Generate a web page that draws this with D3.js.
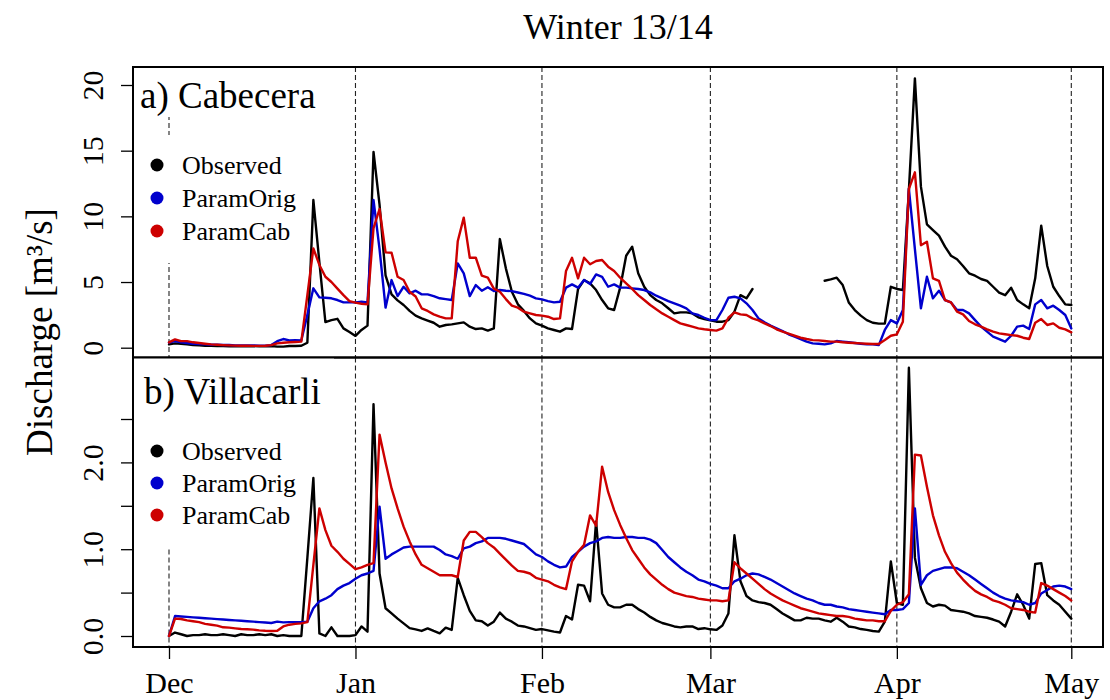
<!DOCTYPE html>
<html>
<head>
<meta charset="utf-8">
<script src="https://cdn.jsdelivr.net/npm/d3@7"></script>
<style>
  html, body { margin: 0; padding: 0; background: #fff; }
  svg text { font-family: "Liberation Serif", "Times New Roman", serif; fill: #000; }
</style>
</head>
<body>
<svg id="chart" width="1110" height="700"></svg>
<script>
// Day index 0 = 1 Dec 2013; the last tick sits on the final day of the record.
const monthTicks  = [0, 31, 62, 90, 121, 150];
const monthLabels = ["Dec", "Jan", "Feb", "Mar", "Apr", "May"];

const seriesNames  = ["Observed", "ParamOrig", "ParamCab"];
const seriesColors = ["#000000", "#0000CD", "#CD0000"];

const cabTicks = [0, 5, 10, 15, 20];
const vilTicks = [0, 0.5, 1, 1.5, 2, 2.5];
const vilTickLabels = ["0.0", "", "1.0", "", "2.0", ""];

// a) Cabecera — daily discharge [m3/s]; null = no observation
const cabObs = [
  0.25,0.33,0.3,0.25,0.2,0.18,0.15,0.14,0.12,0.12,0.1,0.12,0.1,0.1,0.12,0.1,0.1,0.13,0.08,0.08,
  0.13,0.13,0.15,0.38,11.24,6.5,1.95,2.1,2.2,1.47,1.2,0.9,1.35,1.68,14.9,10.9,5.5,4.06,3.6,3.25,
  2.8,2.44,2.23,2.06,1.9,1.6,1.73,1.78,1.85,1.93,1.6,1.42,1.47,1.3,1.47,8.27,6.04,4.26,3.3,2.8,
  2.23,1.85,1.68,1.47,1.35,1.22,1.47,1.42,4.47,5.15,4.9,4.39,3.63,3.0,2.87,4.57,7.0,7.69,5.66,4.64,
  4.0,3.63,3.38,3.0,2.61,2.69,2.69,2.61,2.31,2.18,2.08,1.98,1.98,2.1,2.74,4.0,3.76,4.47,null,null,
  null,null,null,null,null,null,null,null,null,5.1,5.2,5.33,4.77,3.45,2.87,2.44,2.1,1.9,1.83,1.83,
  4.64,4.47,4.39,12.0,20.5,12.26,9.39,8.96,8.53,7.69,7.0,6.73,6.22,5.66,5.48,5.23,5.08,4.64,4.19,4.0,
  4.57,3.63,3.3,3.0,5.28,9.29,6.22,4.64,3.93,3.3,3.25
];
const cabOrig = [
  0.38,0.5,0.41,0.36,0.3,0.28,0.25,0.23,0.22,0.2,0.2,0.18,0.18,0.17,0.17,0.16,0.16,0.2,0.5,0.66,
  0.56,0.58,0.56,2.5,4.52,3.83,3.8,3.76,3.63,3.45,3.45,3.45,3.5,3.45,11.24,7.5,3.05,5.15,3.93,4.64,
  4.14,4.34,4.06,4.06,3.93,3.76,3.7,3.63,6.42,5.66,3.93,4.77,4.34,4.6,4.31,4.39,4.34,4.31,4.2,4.1,
  3.96,3.76,3.68,3.55,3.45,3.5,4.57,4.82,4.57,5.15,4.85,5.58,5.4,4.64,4.82,4.57,4.57,4.52,4.47,4.39,
  4.21,3.96,3.76,3.55,3.38,3.2,3.0,2.61,2.49,2.28,2.1,2.1,2.87,3.8,3.88,3.76,3.38,2.87,2.23,1.93,
  1.68,1.47,1.27,1.02,0.84,0.66,0.46,0.33,0.3,0.25,0.33,0.51,0.46,0.41,0.36,0.3,0.25,0.25,0.2,1.35,
  2.1,1.85,2.87,12.1,7.5,3.0,5.4,3.76,4.34,3.63,3.45,2.87,2.87,2.61,2.1,1.6,1.22,0.84,0.66,0.46,
  0.91,1.6,1.68,1.42,3.3,3.63,3.0,3.2,2.87,2.49,1.47
];
const cabCab = [
  0.4,0.63,0.5,0.5,0.41,0.36,0.3,0.25,0.23,0.2,0.18,0.16,0.15,0.15,0.14,0.14,0.15,0.2,0.33,0.38,
  0.41,0.43,0.46,4.0,7.56,6.3,5.4,5.0,4.5,4.0,3.55,3.43,3.35,3.3,9.1,10.56,7.26,7.23,5.4,5.15,
  4.26,3.9,3.0,2.8,2.54,2.36,2.23,2.23,8.1,9.9,6.85,6.85,5.48,5.33,4.5,4.26,3.7,3.2,3.05,2.74,
  2.61,2.49,2.44,2.36,2.18,2.23,5.84,6.85,5.28,6.85,6.35,6.6,6.68,6.17,5.84,5.33,4.9,4.47,4.0,3.63,
  3.25,2.92,2.61,2.36,2.1,1.85,1.73,1.6,1.47,1.4,1.35,1.3,1.47,2.28,2.69,2.54,2.49,2.23,2.08,1.85,
  1.65,1.4,1.22,1.07,0.91,0.76,0.66,0.58,0.56,0.51,0.46,0.46,0.41,0.38,0.36,0.33,0.3,0.28,0.28,0.58,
  0.91,1.02,1.98,12.1,13.35,7.8,8.07,5.28,5.08,3.63,3.45,2.74,2.54,2.03,1.78,1.6,1.4,1.22,1.09,1.02,
  0.96,0.91,0.76,0.66,1.9,2.18,1.73,1.85,1.52,1.4,1.17
];

// b) Villacarli — daily discharge [m3/s]
const vilObs = [
  0.0,0.04,0.02,0.0,0.01,0.01,0.02,0.01,0.01,0.02,0.01,0.0,0.02,0.01,0.01,0.02,0.01,0.02,0.0,0.01,
  0.0,0.0,0.0,0.9,1.82,0.03,0.0,0.1,0.0,0.0,0.0,0.01,0.11,0.05,2.67,0.72,0.32,0.26,0.2,0.146,
  0.09,0.077,0.058,0.088,0.058,0.03,0.096,0.07,0.67,0.47,0.29,0.18,0.17,0.12,0.165,0.27,0.2,0.165,0.12,0.11,
  0.09,0.07,0.08,0.065,0.05,0.04,0.23,0.19,0.59,0.58,0.4,1.32,0.49,0.36,0.33,0.33,0.36,0.36,0.31,0.27,
  0.22,0.18,0.15,0.13,0.11,0.1,0.11,0.11,0.08,0.09,0.077,0.07,0.12,0.26,1.16,0.63,0.46,0.41,0.39,0.38,
  0.36,0.31,0.26,0.22,0.18,0.18,0.21,0.2,0.2,0.18,0.165,0.21,0.165,0.11,0.1,0.08,0.07,0.058,0.05,0.165,
  0.86,0.38,0.36,3.09,0.9,0.55,0.38,0.34,0.36,0.35,0.3,0.29,0.28,0.26,0.23,0.22,0.21,0.19,0.165,0.11,
  0.28,0.48,0.36,0.2,0.83,0.84,0.47,0.41,0.36,0.28,0.2
];
const vilOrig = [
  0.0,0.23,0.225,0.22,0.215,0.21,0.205,0.2,0.195,0.19,0.185,0.18,0.175,0.17,0.165,0.16,0.155,0.15,0.165,0.157,
  0.16,0.16,0.16,0.165,0.32,0.4,0.43,0.47,0.54,0.58,0.61,0.66,0.7,0.72,0.75,1.49,0.89,0.94,0.98,1.02,
  1.03,1.03,1.03,1.03,1.03,0.99,0.94,0.92,0.89,1.01,1.03,1.07,1.09,1.13,1.13,1.13,1.12,1.1,1.08,1.06,
  1.0,0.94,0.91,0.86,0.82,0.79,0.8,0.91,0.97,1.03,1.07,1.09,1.13,1.14,1.13,1.13,1.14,1.14,1.13,1.13,
  1.11,1.07,0.99,0.91,0.85,0.79,0.74,0.7,0.65,0.63,0.6,0.58,0.55,0.55,0.63,0.66,0.7,0.72,0.71,0.68,
  0.65,0.61,0.57,0.53,0.49,0.46,0.43,0.41,0.38,0.36,0.36,0.34,0.33,0.31,0.3,0.29,0.28,0.27,0.26,0.25,
  0.3,0.3,0.31,0.38,1.47,0.59,0.7,0.75,0.77,0.79,0.79,0.78,0.74,0.7,0.65,0.6,0.55,0.5,0.46,0.43,
  0.41,0.4,0.39,0.36,0.38,0.49,0.53,0.57,0.58,0.57,0.54
];
const vilCab = [
  0.0,0.2,0.196,0.18,0.17,0.16,0.14,0.13,0.12,0.1,0.096,0.088,0.08,0.077,0.073,0.065,0.06,0.058,0.06,0.11,
  0.13,0.14,0.146,0.16,0.82,1.47,1.22,1.04,0.97,0.89,0.83,0.77,0.79,0.82,0.84,2.32,2.0,1.7,1.47,1.26,
  1.09,0.94,0.82,0.78,0.74,0.7,0.7,0.7,0.68,1.1,1.2,1.2,1.14,1.07,1.02,0.95,0.88,0.81,0.75,0.74,
  0.72,0.67,0.65,0.63,0.59,0.56,0.54,0.86,0.97,1.05,1.39,1.27,1.95,1.66,1.45,1.28,1.13,0.99,0.89,0.79,
  0.71,0.65,0.59,0.54,0.5,0.48,0.46,0.45,0.43,0.42,0.41,0.41,0.4,0.41,0.85,0.78,0.72,0.66,0.6,0.54,
  0.49,0.45,0.41,0.38,0.35,0.32,0.3,0.28,0.26,0.25,0.24,0.23,0.23,0.22,0.2,0.19,0.18,0.18,0.17,0.17,
  0.29,0.36,0.39,0.48,2.09,2.08,1.72,1.39,1.16,0.97,0.84,0.73,0.65,0.58,0.52,0.48,0.45,0.41,0.39,0.36,
  0.32,0.31,0.3,0.28,0.27,0.61,0.58,0.54,0.5,0.46,0.41
];

const svg = d3.select("#chart");
svg.append("rect").attr("width", 1110).attr("height", 700).attr("fill", "#fff");

const plotLeft = 133, plotRight = 1103;
const x = d3.scaleLinear().domain([0, 150]).range([169, 1071.3]);

function drawPanel(opt) {
  const g = svg.append("g");
  const y = opt.y;

  // monthly guide lines
  g.selectAll("line.guide").data(monthTicks).join("line")
    .attr("class", "guide")
    .attr("x1", d => x(d)).attr("x2", d => x(d))
    .attr("y1", opt.top).attr("y2", opt.bottom)
    .attr("stroke", "#222").attr("stroke-width", 1.1)
    .attr("stroke-dasharray", "5,3");

  // white backing behind the panel label and legend
  opt.boxes.forEach(b => {
    g.append("rect").attr("x", b[0]).attr("y", b[1])
      .attr("width", b[2]).attr("height", b[3]).attr("fill", "#fff");
  });

  const line = d3.line()
    .defined(d => d != null)
    .x((d, i) => x(i))
    .y(d => y(d));

  opt.series.forEach((s, k) => {
    g.append("path").datum(s)
      .attr("d", line)
      .attr("fill", "none")
      .attr("stroke", seriesColors[k])
      .attr("stroke-width", 2.4)
      .attr("stroke-linejoin", "round")
      .attr("stroke-linecap", "round");
  });

  // frame
  g.append("rect")
    .attr("x", plotLeft).attr("y", opt.top)
    .attr("width", plotRight - plotLeft).attr("height", opt.bottom - opt.top)
    .attr("fill", "none").attr("stroke", "#000").attr("stroke-width", 2);

  // panel label
  g.append("text")
    .attr("x", opt.labelX).attr("y", opt.labelY)
    .style("font-size", "37px")
    .text(opt.label);

  // legend
  const lg = g.append("g");
  seriesNames.forEach((name, k) => {
    const ly = opt.legendY[k];
    lg.append("circle").attr("cx", 157).attr("cy", ly).attr("r", 6.5)
      .attr("fill", seriesColors[k]);
    lg.append("text").attr("x", 182).attr("y", ly + 9)
      .style("font-size", "26px").text(name);
  });

  // y axis
  const ax = g.append("g")
    .attr("transform", `translate(${plotLeft},0)`)
    .call(d3.axisLeft(y).tickValues(opt.ticks).tickSize(12)
      .tickFormat((d, i) => opt.tickFmt(d, i)));
  ax.select(".domain").remove();
  ax.selectAll(".tick line").attr("stroke", "#000").attr("stroke-width", 1.3);
  ax.selectAll(".tick text")
    .attr("x", 0).attr("y", -30).attr("dy", 0)
    .attr("transform", "rotate(-90)")
    .style("text-anchor", "middle")
    .style("font-family", "'Liberation Serif', 'Times New Roman', serif")
    .style("font-size", "30px")
    .attr("fill", "#000");
  return g;
}

drawPanel({
  top: 67, bottom: 357.5,
  y: d3.scaleLinear().domain([0, 20]).range([347.7, 85]),
  ticks: cabTicks,
  tickFmt: d => String(d),
  series: [cabObs, cabOrig, cabCab],
  label: "a) Cabecera", labelX: 140, labelY: 108,
  legendY: [165, 198, 231],
  boxes: [[134, 68, 215, 49], [134, 135, 170, 128]]
});

drawPanel({
  top: 357.5, bottom: 647,
  y: d3.scaleLinear().domain([0, 2]).range([636, 462.4]),
  ticks: vilTicks,
  tickFmt: (d, i) => vilTickLabels[i],
  series: [vilObs, vilOrig, vilCab],
  label: "b) Villacarli", labelX: 144, labelY: 404,
  legendY: [451, 483, 515],
  boxes: [[134, 358, 200, 62], [134, 419, 170, 129]]
});

// x axis (months)
const xa = svg.append("g")
  .attr("transform", "translate(0,647)")
  .call(d3.axisBottom(x).tickValues(monthTicks).tickSize(12)
    .tickFormat((d, i) => monthLabels[i]));
xa.select(".domain").remove();
xa.selectAll(".tick line").attr("stroke", "#000").attr("stroke-width", 1.3);
xa.selectAll(".tick text")
  .attr("y", 25)
  .style("font-family", "'Liberation Serif', 'Times New Roman', serif")
  .style("font-size", "30px")
  .attr("fill", "#000");

// title and axis title
svg.append("text")
  .attr("x", 618).attr("y", 39)
  .attr("text-anchor", "middle")
  .style("font-size", "36px")
  .text("Winter 13/14");

svg.append("text")
  .attr("transform", "translate(52,332) rotate(-90)")
  .attr("text-anchor", "middle")
  .style("font-size", "37px")
  .text("Discharge [m³/s]");
</script>
</body>
</html>
